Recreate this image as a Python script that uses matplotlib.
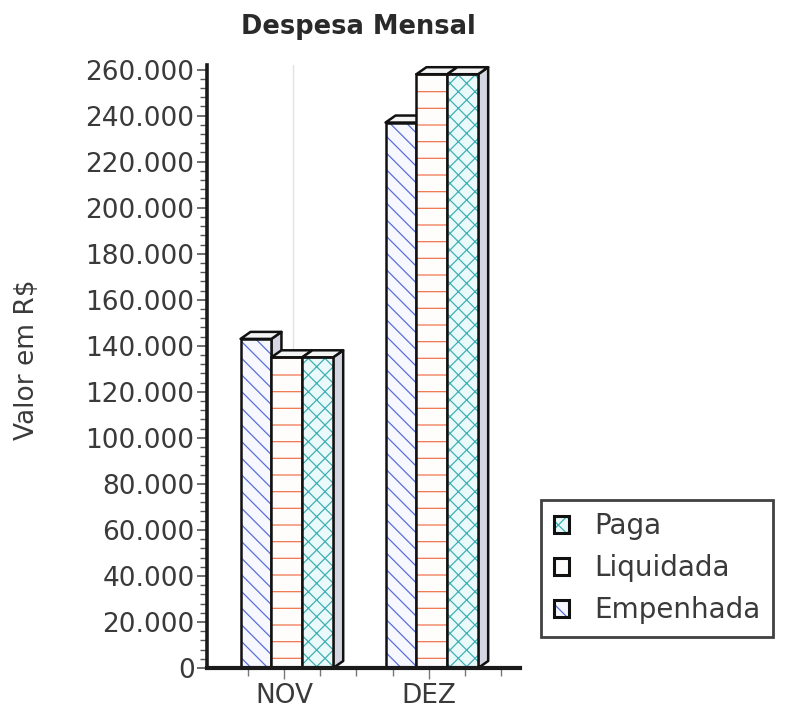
import matplotlib
matplotlib.use("Agg")
import matplotlib.pyplot as plt
from matplotlib.patches import Polygon, Patch
from matplotlib.legend_handler import HandlerTuple
from matplotlib.ticker import FixedLocator, FuncFormatter
import numpy as np

# ---- data ----
categories = ['NOV', 'DEZ']
series_names = ['Empenhada', 'Liquidada', 'Paga']
empenhada = [143000, 237000]
liquidada = [135000, 258000]
paga = [135000, 258000]
y_ticks = list(range(0, 260001, 20000))
legend_order = ['Paga', 'Liquidada', 'Empenhada']

# ---- styles ----
styles = {
    'Empenhada': dict(hatch='\\\\', hc='#5b6fd8', face='#f6f7ff'),
    'Liquidada': dict(hatch='-', hc='#f0764e', face='#fffdfb'),
    'Paga': dict(hatch='xx', hc='#3fb0b4', face='#eafafa'),
}
values = {'Empenhada': empenhada, 'Liquidada': liquidada, 'Paga': paga}

plt.rcParams['font.family'] = ['DejaVu Sans']
plt.rcParams['hatch.linewidth'] = 0.9

fig = plt.figure(figsize=(7.89, 7.23), dpi=100)
ax = fig.add_axes([207/789, 1-668/723, (520-207)/789, (668-65)/723])

W, H = 313.0, 603.0
ax.set_xlim(-0.531, 1.628)
ax.set_ylim(0, 262000)
xr = 1.628 + 0.531
yr = 262000
dx = 10 / W * xr
dy = 7 / H * yr

width = 0.213
x = np.arange(len(categories))
shift = 0.02
z = 3
for j, name in enumerate(series_names):
    st = styles[name]
    pos = x + (j - 1) * width + shift
    bars = ax.bar(pos, values[name], width=width, color=st['face'],
                  edgecolor=st['hc'], hatch=st['hatch'], linewidth=0, zorder=z)
    for b in bars:
        x0, w, h = b.get_x(), b.get_width(), b.get_height()
        x1 = x0 + w
        side = Polygon([(x1, 0), (x1 + dx, dy), (x1 + dx, h + dy), (x1, h)],
                       closed=True, facecolor='#d6d6e2', edgecolor='#111111',
                       linewidth=1.8, zorder=z - 0.5, joinstyle='round')
        top = Polygon([(x0, h), (x0 + dx, h + dy), (x1 + dx, h + dy), (x1, h)],
                      closed=True, facecolor='#f4f4f4', edgecolor='#111111',
                      linewidth=1.8, zorder=z + 0.2, joinstyle='round')
        ax.add_patch(side)
        ax.add_patch(top)
    ax.bar(pos, values[name], width=width, fill=False, edgecolor='#111111',
           linewidth=1.8, zorder=z + 0.1)
    z += 1

# faint vertical line
ax.axvline((293 - 284) / 145, color='#e2e2e2', linewidth=1.0, zorder=0)

# spines
for s in ['top', 'right']:
    ax.spines[s].set_visible(False)
ax.spines['left'].set_linewidth(2.6)
ax.spines['bottom'].set_linewidth(3.0)
ax.spines['left'].set_color('#1a1a1a')
ax.spines['bottom'].set_color('#1a1a1a')
ax.spines['bottom'].set_zorder(10)

# y ticks
ax.yaxis.set_major_locator(FixedLocator(y_ticks))
ax.yaxis.set_minor_locator(FixedLocator([v for v in range(0, 262000, 4000) if v % 20000]))
ax.yaxis.set_major_formatter(FuncFormatter(lambda v, p: f"{int(v):,}".replace(',', '.')))
ax.tick_params(axis='y', which='major', length=7, width=1.2, color='#555555',
               labelsize=19, labelcolor='#3a3a3a', pad=2)
ax.tick_params(axis='y', which='minor', length=5, width=1.0, color='#555555')

# x ticks
ax.set_xticks(x)
ax.set_xticklabels(categories)
ax.xaxis.set_minor_locator(FixedLocator([-0.25, 0.25, 0.5, 0.75, 1.25, 1.5]))
ax.tick_params(axis='x', which='major', length=8, width=1.0, color='#777777',
               labelsize=19, labelcolor='#3a3a3a', pad=3)
ax.tick_params(axis='x', which='minor', length=6, width=1.0, color='#777777')

ax.set_ylabel('Valor em R$', fontsize=19, color='#3a3a3a')
ax.yaxis.set_label_coords((40 - 207) / W, (668 - 360) / H)

fig.text(358 / 789, 1 - 27 / 723, 'Despesa Mensal', ha='center', va='center',
         fontsize=18.5, fontweight='bold', color='#2a2a2a')

# legend
handles = []
for name in legend_order:
    st = styles[name]
    p1 = Patch(facecolor=st['face'], edgecolor=st['hc'], hatch=st['hatch'], linewidth=0)
    p2 = Patch(facecolor='none', edgecolor='#111111', linewidth=2.2)
    handles.append((p1, p2))
leg = fig.legend(handles, legend_order, handler_map={tuple: HandlerTuple(ndivide=1)},
                 loc='upper left', bbox_to_anchor=(541 / 789, 1 - 500 / 723),
                 fontsize=20, frameon=True, fancybox=False, handlelength=0.55,
                 handleheight=0.55, handletextpad=0.9, borderpad=0.45,
                 labelspacing=0.5, borderaxespad=0)
leg.get_frame().set_edgecolor('#111111')
leg.get_frame().set_linewidth(2.0)
for t in leg.get_texts():
    t.set_color('#3a3a3a')

fig.savefig('out.png', dpi=100)
